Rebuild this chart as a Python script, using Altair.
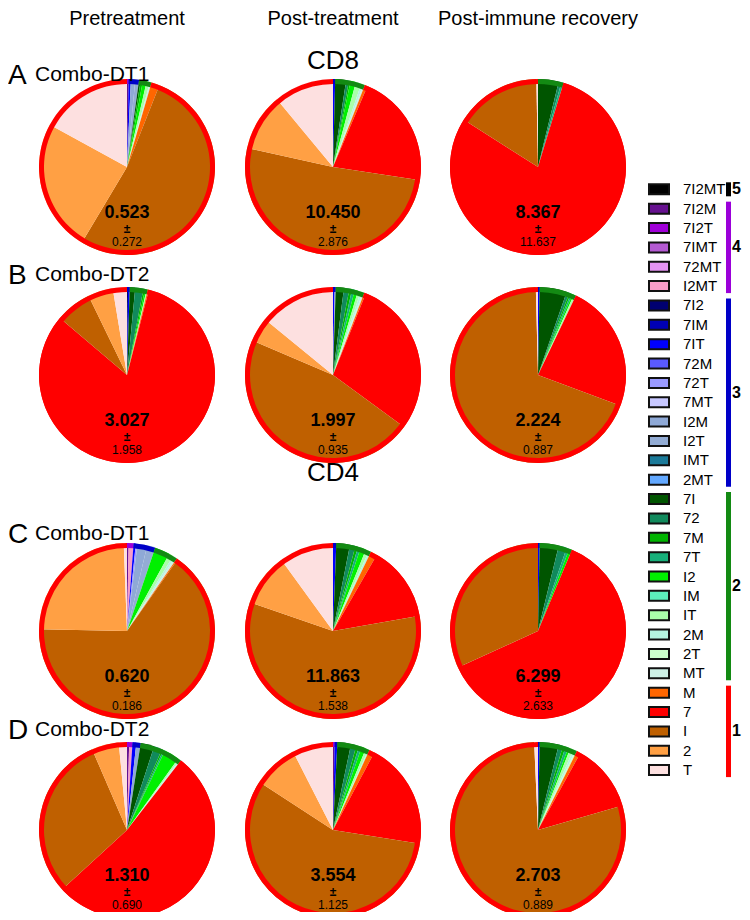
import math
import altair as alt
import pandas as pd

# ---------------- data ----------------
categories = ["7I2MT",
              "7I2M", "7I2T", "7IMT", "72MT", "I2MT",
              "7I2", "7IM", "7IT", "72M", "72T", "7MT", "I2M", "I2T", "IMT", "2MT",
              "7I", "72", "7M", "7T", "I2", "IM", "IT", "2M", "2T", "MT",
              "M", "7", "I", "2", "T"]
category_groups = [5,
                   4, 4, 4, 4, 4,
                   3, 3, 3, 3, 3, 3, 3, 3, 3, 3,
                   2, 2, 2, 2, 2, 2, 2, 2, 2, 2,
                   1, 1, 1, 1, 1]
category_colors = ["#000000",
                   "#66118f", "#a000d8", "#b45ad2", "#e493f2", "#f79cc8",
                   "#000070", "#0000b4", "#0000ff", "#5a5aff", "#9a9aff", "#c8c8ff",
                   "#8fa9d6", "#93acd4", "#1b7a99", "#62a8ff",
                   "#005500", "#118a5c", "#00b400", "#17b07a", "#00f000", "#5cefbb",
                   "#aaffaa", "#b5f5e0", "#ccffcc", "#cdf0e6",
                   "#ff6600", "#ff0000", "#bf6000", "#ffa044", "#fde0e0"]
group_ids = [5, 4, 3, 2, 1]
group_colors = ["#000000", "#9b00d9", "#0000c8", "#138a13", "#ff0000"]

timepoints = ["Pretreatment", "Post-treatment", "Post-immune recovery"]
panel_letters = ["A", "B", "C", "D"]
panel_cohorts = ["Combo-DT1", "Combo-DT2", "Combo-DT1", "Combo-DT2"]
cell_types = ["CD8", "CD4"]

means = [["0.523", "10.450", "8.367"],
         ["3.027", "1.997", "2.224"],
         ["0.620", "11.863", "6.299"],
         ["1.310", "3.554", "2.703"]]
sds = [["0.272", "2.876", "11.637"],
       ["1.958", "0.935", "0.887"],
       ["0.186", "1.538", "2.633"],
       ["0.690", "1.125", "0.889"]]

# percent of each phenotype, per row (A-D) and timepoint
slices = {
    (0, 0): {"7I2M": 0.3, "I2M": 0.8, "I2T": 0.7, "7IT": 0.4, "7I": 0.3, "7M": 0.4, "I2": 0.7,
             "IT": 0.6, "MT": 0.3, "M": 1.5, "I": 52.5, "2": 24.4, "T": 17.0},
    (0, 1): {"7IT": 0.4, "7I": 2.0, "72": 0.5, "7M": 0.3, "I2": 1.0, "IT": 1.0, "2M": 0.4,
             "MT": 0.3, "M": 0.5, "7": 21.0, "I": 51.0, "2": 10.5, "T": 11.0},
    (0, 2): {"7I": 3.8, "72": 0.5, "7T": 0.4, "7": 79.4, "I": 15.7, "T": 0.3},
    (1, 0): {"7I2": 0.2, "7IT": 0.3, "7I": 1.0, "72": 1.5, "7M": 0.3, "I2": 0.3, "IT": 0.2,
             "M": 0.2, "7": 82.1, "I": 6.6, "2": 4.6, "T": 2.6},
    (1, 1): {"7IT": 0.3, "I2M": 0.2, "7I": 1.5, "72": 1.0, "7M": 0.5, "7T": 0.5, "I2": 0.6,
             "IT": 0.5, "2M": 0.4, "MT": 0.3, "M": 0.3, "7": 29.0, "I": 46.4, "2": 4.5, "T": 14.1},
    (1, 2): {"7IT": 0.3, "7I": 5.0, "72": 0.5, "7M": 0.3, "7T": 0.3, "I2": 0.3, "IT": 0.4,
             "7": 23.6, "I": 68.9, "T": 0.4},
    (2, 0): {"7I2M": 0.3, "I2MT": 0.9, "7IT": 0.4, "I2M": 1.8, "I2T": 1.5, "72T": 0.3,
             "I2": 2.8, "IT": 0.8, "2M": 0.4, "MT": 0.4, "M": 0.2, "I": 65.6, "2": 24.1, "T": 0.6},
    (2, 1): {"7IT": 0.6, "7I": 2.5, "72": 1.0, "7M": 0.5, "7T": 0.5, "I2": 1.0, "IT": 0.6,
             "2M": 0.4, "M": 1.2, "7": 13.9, "I": 58.0, "2": 9.7, "T": 10.0},
    (2, 2): {"7IT": 0.3, "7I": 3.5, "72": 1.5, "7T": 0.5, "I2": 0.5, "7": 61.9, "I": 31.8},
    (3, 0): {"7I2M": 0.4, "I2MT": 0.6, "7IT": 0.7, "I2M": 0.8, "7I": 2.5, "72": 1.5, "7M": 0.3,
             "7T": 0.3, "I2": 2.8, "IT": 0.3, "2M": 0.2, "MT": 0.1, "7": 52.7, "I": 30.3,
             "2": 5.0, "T": 1.5},
    (3, 1): {"7I2M": 0.3, "7IT": 0.5, "7I": 2.5, "72": 1.0, "7M": 0.5, "7T": 0.5, "I2": 0.8,
             "IT": 0.5, "2M": 0.2, "M": 1.0, "7": 19.7, "I": 56.7, "2": 8.3, "T": 7.5},
    (3, 2): {"7IT": 0.3, "7I": 3.5, "72": 0.8, "7M": 0.5, "7T": 0.5, "I2": 0.4, "IT": 0.6,
             "2M": 0.4, "2T": 0.3, "M": 0.7, "7": 12.5, "I": 78.8, "T": 0.7},
}

# ---------------- tables ----------------
rows = []
for (r, c), vals in slices.items():
    for i, cat in enumerate(categories):
        v = vals.get(cat, 0.0)
        if v > 0:
            rows.append({"panel": f"{r}-{c}", "row": r, "col": c, "cat": cat,
                         "order": i, "grp": category_groups[i], "value": v})
slice_df = pd.DataFrame(rows)

panel_df = pd.DataFrame([{"row": r, "col": c, "mean": means[r][c], "sd": sds[r][c]}
                         for r in range(4) for c in range(3)])
header_df = pd.DataFrame({"label": timepoints, "col": [0, 1, 2]})
rowlab_df = pd.DataFrame({"letter": panel_letters, "cohort": panel_cohorts, "row": [0, 1, 2, 3]})
section_df = pd.DataFrame({"label": cell_types, "sec": [0, 1]})
legend_df = pd.DataFrame({"cat": categories, "grp": category_groups})

# ---------------- layout (chart pixels) ----------------
COL_CX = [119, 325, 530]
ROW_CY = [159, 367, 623, 822]
ROW_LABEL_Y = [68, 268, 527, 723]
SECTION_Y = [53, 465]
R = 88
RING = 5
FONT = "Liberation Sans, Arial, sans-serif"
LEG_Y0 = 181.3
LEG_STEP = 19.36
TAU = 2 * math.pi

cx_expr = f"{COL_CX}[datum.col]"
cy_expr = f"{ROW_CY}[datum.row]"

X = alt.X("cx:Q", scale=None, axis=None)
Y = alt.Y("cy:Q", scale=None, axis=None)
theta_scale = alt.Scale(domain=[0, 1], range=[0, TAU])

pies = alt.Chart(slice_df).transform_window(
    cum="sum(value)", groupby=["panel"], sort=[alt.SortField("order")], frame=[None, 0]
).transform_joinaggregate(
    total="sum(value)", groupby=["panel"]
).transform_calculate(
    t0="(datum.cum - datum.value) / datum.total", t1="datum.cum / datum.total",
    cx=cx_expr, cy=cy_expr
).mark_arc(radius=R, strokeWidth=0).encode(
    x=X, y=Y,
    theta=alt.Theta("t0:Q", scale=theta_scale, stack=None),
    theta2="t1:Q",
    color=alt.Color("cat:N", scale=alt.Scale(domain=categories, range=category_colors), legend=None),
)

ring = alt.Chart(slice_df).transform_aggregate(
    gval="sum(value)", groupby=["panel", "row", "col", "grp"]
).transform_window(
    cum="sum(gval)", groupby=["panel"], sort=[alt.SortField("grp", order="descending")], frame=[None, 0]
).transform_joinaggregate(
    total="sum(gval)", groupby=["panel"]
).transform_calculate(
    t0="(datum.cum - datum.gval) / datum.total", t1="datum.cum / datum.total",
    cx=cx_expr, cy=cy_expr
).mark_arc(radius=R, radius2=R - RING, strokeWidth=0).encode(
    x=X, y=Y,
    theta=alt.Theta("t0:Q", scale=theta_scale, stack=None),
    theta2="t1:Q",
    color=alt.Color("grp:N", scale=alt.Scale(domain=group_ids, range=group_colors), legend=None),
)

pbase = alt.Chart(panel_df).transform_calculate(cx=cx_expr, cy=cy_expr)
mean_txt = pbase.mark_text(dy=46, fontSize=18, fontWeight="bold", font=FONT, baseline="middle").encode(
    x=X, y=Y, text="mean:N")
pm_txt = pbase.mark_text(dy=62, fontSize=12, fontWeight="bold", font=FONT, baseline="middle", text="±").encode(
    x=X, y=Y)
sd_txt = pbase.mark_text(dy=75, fontSize=12, font=FONT, baseline="middle").encode(
    x=X, y=Y, text="sd:N")

headers = alt.Chart(header_df).transform_calculate(cx=cx_expr).mark_text(
    fontSize=20, font=FONT, baseline="middle").encode(
    x=X, y=alt.value(11), text="label:N")

sections = alt.Chart(section_df).transform_calculate(
    cy=f"{SECTION_Y}[datum.sec]").mark_text(fontSize=26, font=FONT, baseline="middle").encode(
    x=alt.value(COL_CX[1]), y=Y, text="label:N")

rbase = alt.Chart(rowlab_df).transform_calculate(ly=f"{ROW_LABEL_Y}[datum.row]")
letters = rbase.mark_text(fontSize=28, font=FONT, baseline="middle", align="left").encode(
    x=alt.value(0), y=alt.Y("ly:Q", scale=None, axis=None), text="letter:N")
cohorts = rbase.mark_text(dy=-1, fontSize=21, font=FONT, baseline="middle", align="left").encode(
    x=alt.value(27), y=alt.Y("ly:Q", scale=None, axis=None), text="cohort:N")

lbase = alt.Chart(legend_df).transform_window(idx="row_number()").transform_calculate(
    ly=f"{LEG_Y0} + (datum.idx - 1) * {LEG_STEP}",
    ly0=f"{LEG_Y0} + (datum.idx - 1) * {LEG_STEP} - 5",
    ly1=f"{LEG_Y0} + (datum.idx - 1) * {LEG_STEP} + 5",
)
swatches = lbase.mark_rect(stroke="#111111", strokeWidth=2).encode(
    x=alt.value(641), x2=alt.value(661),
    y=alt.Y("ly0:Q", scale=None, axis=None), y2="ly1:Q",
    color=alt.Color("cat:N", scale=alt.Scale(domain=categories, range=category_colors), legend=None),
)
leg_text = lbase.mark_text(fontSize=15, font=FONT, baseline="middle", align="left").encode(
    x=alt.value(675), y=alt.Y("ly:Q", scale=None, axis=None), text="cat:N")

gbase = lbase.transform_aggregate(i0="min(idx)", i1="max(idx)", groupby=["grp"]).transform_calculate(
    g0=f"{LEG_Y0} + (datum.i0 - 1) * {LEG_STEP} - 7",
    g1=f"{LEG_Y0} + (datum.i1 - 1) * {LEG_STEP} + 7",
    gm=f"{LEG_Y0} + (datum.i0 + datum.i1 - 2) / 2 * {LEG_STEP}",
)
gbars = gbase.mark_rect().encode(
    x=alt.value(718), x2=alt.value(723),
    y=alt.Y("g0:Q", scale=None, axis=None), y2="g1:Q",
    color=alt.Color("grp:N", scale=alt.Scale(domain=group_ids, range=group_colors), legend=None),
)
gnums = gbase.mark_text(fontSize=16, fontWeight="bold", font=FONT, baseline="middle", align="left").encode(
    x=alt.value(724), y=alt.Y("gm:Q", scale=None, axis=None), text="grp:N")

chart = alt.layer(
    pies, ring, mean_txt, pm_txt, sd_txt, headers, sections, letters, cohorts,
    swatches, leg_text, gbars, gnums
).resolve_scale(color="independent").properties(
    width=734, height=904, padding=0, autosize="none"
).configure_view(stroke=None)

chart.save("out.html", embed_options={"renderer": "svg", "actions": False})
